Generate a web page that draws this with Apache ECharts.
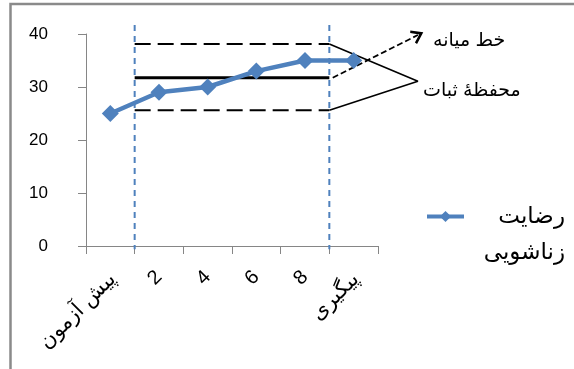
<!DOCTYPE html>
<html>
<head>
<meta charset="utf-8">
<style>
  html, body { margin: 0; padding: 0; background: #fff; }
  #chart { width: 574px; height: 369px; }
</style>
<script src="https://cdn.jsdelivr.net/npm/echarts@6/dist/echarts.min.js"></script>
</head>
<body>
<div id="chart"></div>
<script>
// Sessions of the single-case design: baseline, treatment sessions, follow-up
const categories = ['پیش آزمون', '2', '4', '6', '8', 'پیگیری'];
// Marital satisfaction score per session
const satisfaction = [25, 29, 30, 33, 35, 35];
const seriesName = 'رضایت زناشویی';
const yTicks = [0, 10, 20, 30, 40];

// Stability envelope over the treatment phase
const meanLevel = 31.75;
const upperBand = 38.1;
const lowerBand = 25.6;
// Phase boundaries, in category-slot units (0 = left edge of plot)
const phaseBounds = [1, 5];
const phaseLineTop = 41.7;
const phaseLineBottom = -0.6;
// Where the callout leaders meet, in the same units
const calloutX = 6.82;
const envelopeCalloutY = 31.1;
const meanArrowTip = 39.8;

const labels = { mean: 'خط میانه', envelope: 'محفظهٔ ثبات' };

const blue = '#4F81BD';
const axisGray = '#868686';
const font = '"Liberation Sans", "DejaVu Sans", sans-serif';

// Plot geometry: one category slot is slotPx wide, one score unit is unitPx tall
const plotLeft = 86, plotTop = 34, plotBottom = 123, plotRight = 196;
const slotPx = (574 - plotLeft - plotRight) / categories.length;
const unitPx = (369 - plotTop - plotBottom) / (yTicks[yTicks.length - 1] - yTicks[0]);
// Overlay grid for the phase lines and callouts: same scale, wider extent
const overlayMaxX = 8, overlayMinY = -1, overlayMaxY = 42;

const chart = echarts.init(document.getElementById('chart'), null, { renderer: 'canvas' });

function segment(name, pts, style) {
  return {
    name: name, type: 'line', xAxisIndex: 1, yAxisIndex: 1,
    data: pts, symbol: 'none', clip: false, silent: true, z: 3,
    lineStyle: style
  };
}

const series = [
  segment('phase1', [[phaseBounds[0], phaseLineTop], [phaseBounds[0], phaseLineBottom]],
    { color: blue, width: 2, type: [6, 5] }),
  segment('phase2', [[phaseBounds[1], phaseLineTop], [phaseBounds[1], phaseLineBottom]],
    { color: blue, width: 2, type: [6, 5] }),
  segment('upper', [[phaseBounds[0], upperBand], [phaseBounds[1], upperBand]],
    { color: '#000', width: 2, type: [16, 7] }),
  segment('lower', [[phaseBounds[0], lowerBand], [phaseBounds[1], lowerBand]],
    { color: '#000', width: 2, type: [16, 7] }),
  segment('mean', [[phaseBounds[0], meanLevel], [phaseBounds[1], meanLevel]],
    { color: '#000', width: 3, type: 'solid' }),
  segment('envelopeLeader', [[phaseBounds[1], upperBand], [calloutX, envelopeCalloutY], [phaseBounds[1], lowerBand]],
    { color: '#000', width: 1.6, type: 'solid' }),
  {
    name: 'meanArrow', type: 'line', xAxisIndex: 1, yAxisIndex: 1,
    data: [], clip: false, silent: true, z: 3,
    markLine: {
      silent: true,
      symbol: ['none', 'path://M6,0 L12,10 L10.2,11.2 L6,4.2 L1.8,11.2 L0,10 Z'],
      symbolSize: [15, 12],
      label: { show: false },
      lineStyle: { color: '#000', width: 1.8, type: [6, 3] },
      data: [[
        { coord: [phaseBounds[1] + 0.07, meanLevel] },
        { coord: [calloutX, meanArrowTip] }
      ]]
    }
  },
  {
    name: seriesName, type: 'line', xAxisIndex: 0, yAxisIndex: 0,
    data: satisfaction, symbol: 'diamond', symbolSize: 17,
    itemStyle: { color: blue },
    lineStyle: { color: blue, width: 4.5 },
    z: 5
  }
];

chart.setOption({
  animation: false,
  textStyle: { fontFamily: font },
  grid: [
    { left: plotLeft, right: plotRight, top: plotTop, bottom: plotBottom, outerBoundsMode: 'none', containLabel: false },
    {
      left: plotLeft,
      width: slotPx * overlayMaxX,
      top: plotTop - (overlayMaxY - yTicks[yTicks.length - 1]) * unitPx,
      height: (overlayMaxY - overlayMinY) * unitPx,
      outerBoundsMode: 'none', containLabel: false
    }
  ],
  legend: {
    data: [seriesName],
    left: 425, top: 205, padding: 0,
    itemWidth: 37, itemHeight: 14,
    lineStyle: { width: 4 },
    formatter: function () { return '{a|رضایت}\n{a|زناشویی}'; },
    textStyle: {
      color: '#000', fontFamily: font, fontSize: 23,
      padding: [36, 0, 0, 0],
      rich: { a: { width: 96, align: 'right', fontSize: 23, lineHeight: 36, color: '#000', fontFamily: font } }
    }
  },
  xAxis: [
    {
      type: 'category', data: categories, boundaryGap: true, gridIndex: 0,
      axisLine: { lineStyle: { color: axisGray, width: 1 } },
      axisTick: { show: true, length: 8, lineStyle: { color: axisGray } },
      axisLabel: {
        rotate: 45, interval: 0, margin: 28, color: '#000', fontSize: 20, fontFamily: font,
        formatter: function (v) { return /^\d+$/.test(v) ? v : '{fa|' + v + '}'; },
        rich: { fa: { fontSize: 21, fontFamily: font, color: '#000', padding: [6, 0, 0, 0] } }
      },
      splitLine: { show: false }
    },
    { type: 'value', gridIndex: 1, min: 0, max: overlayMaxX, show: false }
  ],
  yAxis: [
    {
      type: 'value', gridIndex: 0, min: yTicks[0], max: yTicks[yTicks.length - 1], interval: 10,
      axisLine: { show: true, lineStyle: { color: axisGray, width: 1 } },
      axisTick: { show: true, length: 8, lineStyle: { color: axisGray } },
      axisLabel: { margin: 38, color: '#000', fontSize: 17, fontFamily: font },
      splitLine: { show: false }
    },
    { type: 'value', gridIndex: 1, min: overlayMinY, max: overlayMaxY, show: false }
  ],
  graphic: [
    {
      type: 'rect', silent: true, z: 0,
      shape: { x: 10.5, y: 4, width: 620, height: 420 },
      style: { fill: 'none', stroke: '#8a8a8a', lineWidth: 2.5 }
    },
    {
      type: 'text', left: 433, top: 31, silent: true,
      style: { text: labels.mean, fontSize: 19, fill: '#000', fontFamily: font }
    },
    {
      type: 'text', left: 423, top: 81, silent: true,
      style: { text: labels.envelope, fontSize: 19, fill: '#000', fontFamily: font }
    }
  ],
  series: series
});
</script>
</body>
</html>
